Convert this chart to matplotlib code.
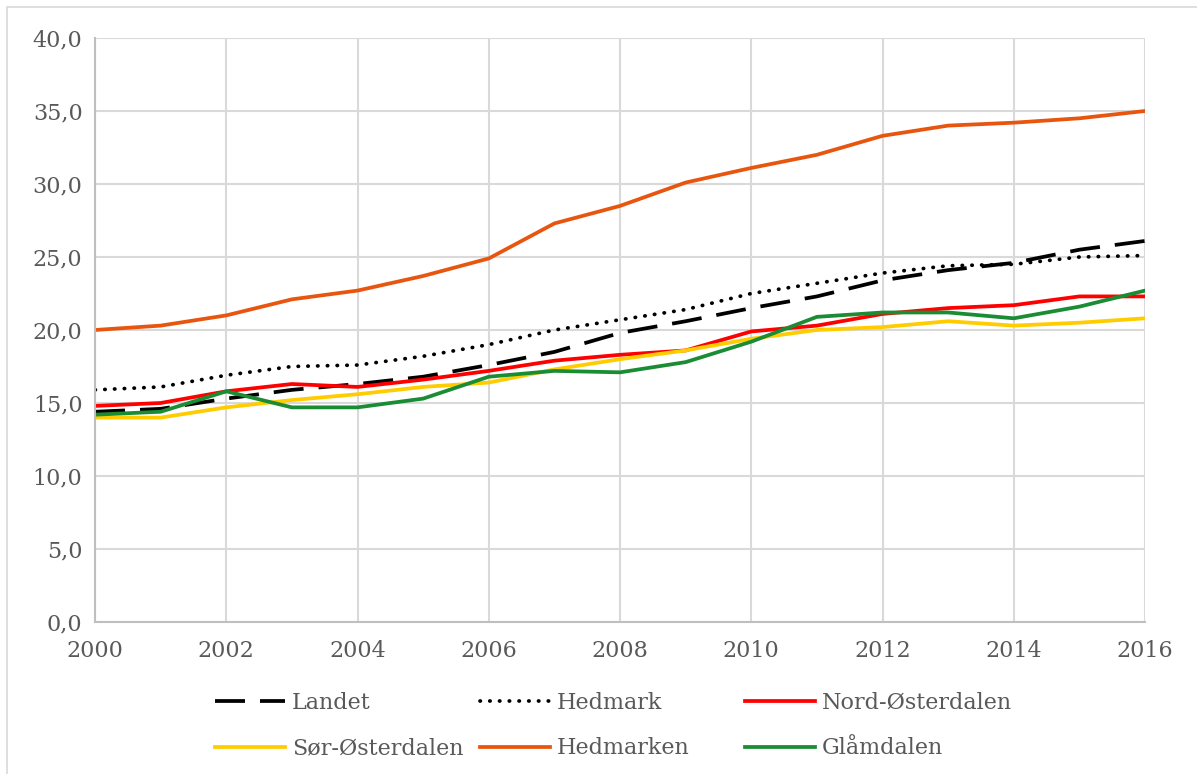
import matplotlib.pyplot as plt
from matplotlib.patches import Rectangle
from matplotlib.ticker import FuncFormatter, MultipleLocator

years = list(range(2000, 2017))

landet = [14.4, 14.6, 15.3, 15.9, 16.3, 16.8, 17.6, 18.5, 19.8, 20.6, 21.5, 22.3, 23.4, 24.1, 24.6, 25.5, 26.1]
hedmark = [15.9, 16.1, 16.9, 17.5, 17.6, 18.2, 19.0, 20.0, 20.7, 21.4, 22.5, 23.2, 23.9, 24.4, 24.5, 25.0, 25.1]
nord_osterdalen = [14.8, 15.0, 15.8, 16.3, 16.1, 16.6, 17.2, 17.9, 18.3, 18.6, 19.9, 20.3, 21.1, 21.5, 21.7, 22.3, 22.3]
sor_osterdalen = [14.0, 14.0, 14.7, 15.2, 15.6, 16.1, 16.4, 17.3, 18.0, 18.6, 19.4, 20.0, 20.2, 20.6, 20.3, 20.5, 20.8]
hedmarken = [20.0, 20.3, 21.0, 22.1, 22.7, 23.7, 24.9, 27.3, 28.5, 30.1, 31.1, 32.0, 33.3, 34.0, 34.2, 34.5, 35.0]
glamdalen = [14.2, 14.4, 15.8, 14.7, 14.7, 15.3, 16.8, 17.2, 17.1, 17.8, 19.2, 20.9, 21.2, 21.2, 20.8, 21.6, 22.7]

plt.rcParams['font.family'] = ['DejaVu Serif']
text_grey = '#595959'
grid_grey = '#d9d9d9'
fsize = 16

fig = plt.figure(figsize=(11.97, 7.74), dpi=100)
ax = fig.add_axes([0.0794, 0.1964, 0.8772, 0.7545])

lw = 2.7
l1, = ax.plot(years, landet, color='black', lw=lw, dashes=(8, 4), label='Landet')
l2, = ax.plot(years, hedmark, color='black', lw=lw, dashes=(0.1, 2.5), dash_capstyle='round', label='Hedmark')
l3, = ax.plot(years, nord_osterdalen, color='#ff0000', lw=lw, label='Nord-Østerdalen')
l4, = ax.plot(years, sor_osterdalen, color='#ffcc00', lw=lw, label='Sør-Østerdalen')
l5, = ax.plot(years, hedmarken, color='#e8550f', lw=lw, label='Hedmarken')
l6, = ax.plot(years, glamdalen, color='#1a8c34', lw=lw, label='Glåmdalen')

ax.set_xlim(2000, 2016)
ax.set_ylim(0, 40)
ax.xaxis.set_major_locator(MultipleLocator(2))
ax.yaxis.set_major_locator(MultipleLocator(5))
ax.yaxis.set_major_formatter(FuncFormatter(lambda v, p: f'{v:.1f}'.replace('.', ',')))

ax.grid(True, color=grid_grey, lw=1.5)
ax.set_axisbelow(True)
ax.tick_params(length=0, labelsize=fsize, colors=text_grey)
ax.tick_params(axis='y', pad=9)
ax.tick_params(axis='x', pad=13)
for side in ['top', 'right']:
    ax.spines[side].set_visible(False)
for side in ['left', 'bottom']:
    ax.spines[side].set_color('#bfbfbf')
    ax.spines[side].set_linewidth(1.5)

# legend as three columns, two rows, laid out row by row
columns = [(l1, l4), (l2, l5), (l3, l6)]
col_x = [215, 480, 745]
for handles, x in zip(columns, col_x):
    leg = fig.legend(handles=list(handles), loc='upper left', bbox_to_anchor=(x / 1197, 1 - 692 / 774),
                     frameon=False, fontsize=fsize, handlelength=3.15, handletextpad=0.3,
                     labelspacing=1.05, borderpad=0, borderaxespad=0)
    for t in leg.get_texts():
        t.set_color(text_grey)

# light frame round the chart area
fig.patches.append(Rectangle((7 / 1197, -0.02), 1.05, 1 - 7 / 774 + 0.02, transform=fig.transFigure,
                             fill=False, edgecolor='#d9d9d9', lw=1.2))

fig.savefig('out.png', dpi=100)
